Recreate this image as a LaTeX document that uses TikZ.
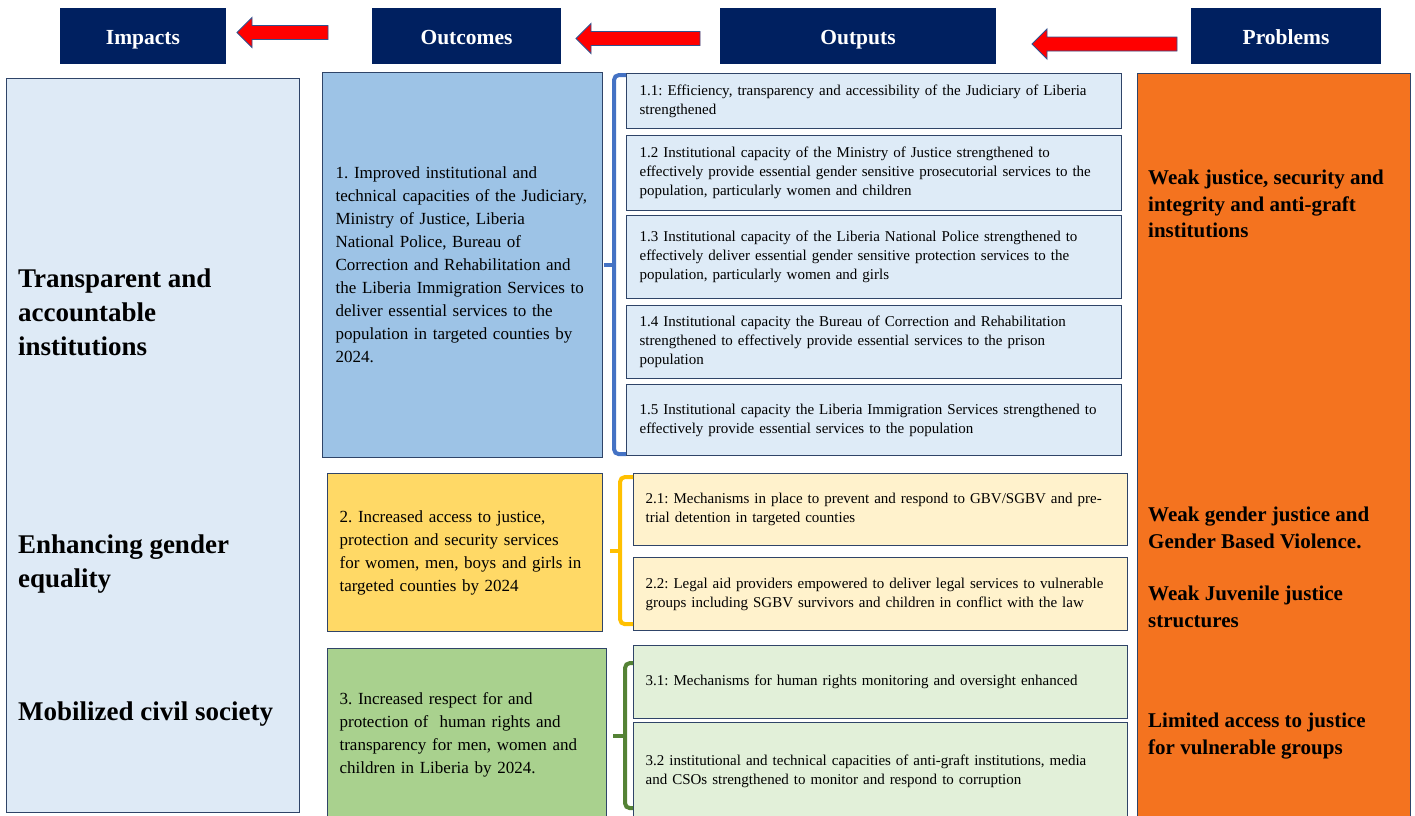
\documentclass[tikz,border=0pt]{standalone}
\usepackage{fontspec}
\setmainfont{Liberation Serif}
\usetikzlibrary{positioning,calc}

\definecolor{navy}{HTML}{002060}
\definecolor{boxline}{HTML}{2F4468}
\definecolor{arrowline}{HTML}{2F528F}
\definecolor{impactfill}{HTML}{DEEAF6}
\definecolor{outcomeblue}{HTML}{9DC3E6}
\definecolor{outputblue}{HTML}{DEEBF7}
\definecolor{outcomeyellow}{HTML}{FFD966}
\definecolor{outputyellow}{HTML}{FFF2CC}
\definecolor{outcomegreen}{HTML}{A9D18E}
\definecolor{outputgreen}{HTML}{E2F0D9}
\definecolor{problemorange}{HTML}{F4731F}
\definecolor{braceblue}{HTML}{4472C4}
\definecolor{braceyellow}{HTML}{FFC000}
\definecolor{bracegreen}{HTML}{548235}

\begin{document}
\frenchspacing
\begin{tikzpicture}[
    x=1pt, y=-1pt,
    header/.style={rectangle, fill=navy, text=white, font=\fontsize{21.5}{24}\selectfont\bfseries, minimum height=56pt, inner sep=0pt, text height=18pt, text depth=1pt},
    panel/.style={rectangle, draw=boxline, line width=1.2pt, anchor=north west, inner sep=0pt},
    outcome/.style={panel, align=left, inner xsep=12pt, font=\fontsize{17}{23}\selectfont},
    output/.style={panel, align=left, inner xsep=12pt, font=\fontsize{15}{19}\selectfont},
    impacttext/.style={anchor=west, align=left, inner sep=0pt, font=\fontsize{27}{34}\selectfont\bfseries},
    problemtext/.style={anchor=west, align=left, inner sep=0pt, font=\fontsize{21}{26.5}\selectfont\bfseries},
    redarrow/.style={fill=red, draw=arrowline, line width=0.9pt},
    brace/.style={line width=4pt, rounded corners=5pt}
]
    \useasboundingbox[fill=white] (0,0) rectangle (1415,815);

    % column headers
    \node[header, minimum width=166pt] (impacts) at (143,36) {Impacts};
    \node[header, minimum width=189pt] (outcomes) at (466.5,36) {Outcomes};
    \node[header, minimum width=276pt] (outputs) at (858,36) {Outputs};
    \node[header, minimum width=190pt] (problems) at (1286,36) {Problems};

    \draw[redarrow] (328,25.5) -- ++(-76,0) -- ++(0,-8) -- ++(-15,15) -- ++(15,15) -- ++(0,-8) -- ++(76,0) -- cycle;
    \draw[redarrow] (700,31.5) -- ++(-109,0) -- ++(0,-8) -- ++(-15,15) -- ++(15,15) -- ++(0,-8) -- ++(109,0) -- cycle;
    \draw[redarrow] (1177,37) -- ++(-130,0) -- ++(0,-8) -- ++(-15,15) -- ++(15,15) -- ++(0,-8) -- ++(130,0) -- cycle;

    % impacts
    \node[panel, fill=impactfill, minimum width=293pt, minimum height=734pt] (impactbox) at (6,78) {};
    \node[impacttext] (impact1) at (18,312) {Transparent and\\accountable\\institutions};
    \node[impacttext] (impact2) at (18,564) {Enhancing gender\\equality};
    \node[impacttext] (impact3) at (18,714) {Mobilized civil society};

    % outcomes
    \node[outcome, fill=outcomeblue, inner xsep=13pt, text width=254pt, minimum height=385pt] (oc1) at (322,72)
        {1. Improved institutional and\\technical capacities of the Judiciary,\\Ministry of Justice, Liberia\\National Police, Bureau of\\Correction and Rehabilitation and\\the Liberia Immigration Services to\\deliver essential services to the\\population in targeted counties by\\2024.};
    \node[outcome, fill=outcomeyellow, text width=251pt, minimum height=158pt] (oc2) at (327,473)
        {2. Increased access to justice,\\protection and security services\\for women, men, boys and girls in\\targeted counties by 2024};
    \node[outcome, fill=outcomegreen, text width=255pt, minimum height=172pt] (oc3) at (327,648)
        {3. Increased respect for and\\protection of\ \ human rights and\\transparency for men, women and\\children in Liberia by 2024.};

    % outputs
    \node[output, fill=outputblue, inner xsep=13pt, text width=469pt, minimum height=55pt] (o11) at (626,73)
        {1.1: Efficiency, transparency and accessibility of the Judiciary of Liberia\\strengthened};
    \node[output, fill=outputblue, inner xsep=13pt, text width=469pt, minimum height=75pt] (o12) at (626,135)
        {1.2 Institutional capacity of the Ministry of Justice strengthened to\\effectively provide essential gender sensitive prosecutorial services to the\\population, particularly women and children};
    \node[output, fill=outputblue, inner xsep=13pt, text width=469pt, minimum height=83pt] (o13) at (626,215)
        {1.3 Institutional capacity of the Liberia National Police strengthened to\\effectively deliver essential gender sensitive protection services to the\\population, particularly women and girls};
    \node[output, fill=outputblue, inner xsep=13pt, text width=469pt, minimum height=73pt] (o14) at (626,305)
        {1.4 Institutional capacity the Bureau of Correction and Rehabilitation\\strengthened to effectively provide essential services to the prison\\population};
    \node[output, fill=outputblue, inner xsep=13pt, text width=469pt, minimum height=71pt] (o15) at (626,384)
        {1.5 Institutional capacity the Liberia Immigration Services strengthened to\\effectively provide essential services to the population};

    \node[output, fill=outputyellow, text width=470pt, minimum height=72pt] (o21) at (633,473)
        {2.1: Mechanisms in place to prevent and respond to GBV/SGBV and pre-\\trial detention in targeted counties};
    \node[output, fill=outputyellow, text width=470pt, minimum height=73pt] (o22) at (633,557)
        {2.2: Legal aid providers empowered to deliver legal services to vulnerable\\groups including SGBV survivors and children in conflict with the law};

    \node[output, fill=outputgreen, text width=470pt, minimum height=73pt] (o31) at (633,645)
        {3.1: Mechanisms for human rights monitoring and oversight enhanced};
    \node[output, fill=outputgreen, text width=470pt, minimum height=98pt] (o32) at (633,722)
        {3.2 institutional and technical capacities of anti-graft institutions, media\\and CSOs strengthened to monitor and respond to corruption};

    % braces
    \draw[brace, braceblue] ([yshift=-2pt]o11.north west) coordinate (btop) -- ++(-12,0) |- ([yshift=2pt]o15.south west) coordinate (bbot);
    \draw[brace, braceblue] ($(btop)!0.5!(bbot)+(-12,0)$) -- ++(-10,0);
    \draw[brace, braceyellow] ([yshift=-4pt]o21.north west) coordinate (ytop) -- ++(-13,0) |- ([yshift=7pt]o22.south west) coordinate (ybot);
    \draw[brace, braceyellow] ($(ytop)!0.5!(ybot)+(-13,0)$) -- ++(-10,0);
    \draw[brace, bracegreen] ([yshift=-18pt]o31.north west) coordinate (gtop) -- ++(-8,0) |- ([yshift=13pt]o32.south west) coordinate (gbot);
    \draw[brace, bracegreen] ($(gtop)!0.5!(gbot)+(-8,0)$) -- ++(-12,0);

    % problems
    \node[panel, fill=problemorange, minimum width=273pt, minimum height=750pt] (probbox) at (1137,73) {};
    \node[problemtext] (prob1) at (1148,204) {Weak justice, security and\\integrity and anti-graft\\institutions};
    \node[problemtext] (prob2) at (1148,528) {Weak gender justice and\\Gender Based Violence.};
    \node[problemtext] (prob3) at (1148,607) {Weak Juvenile justice\\structures};
    \node[problemtext] (prob4) at (1148,736) {Limited access to justice\\for vulnerable groups};
\end{tikzpicture}
\end{document}
